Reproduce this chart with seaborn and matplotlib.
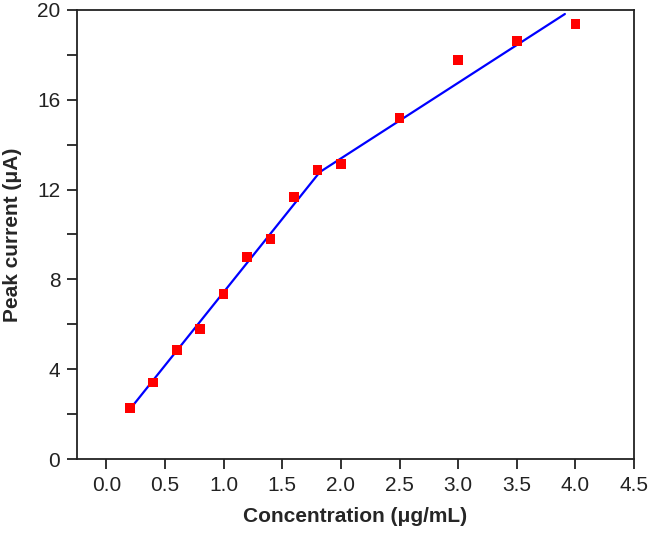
import matplotlib
matplotlib.use("Agg")
import matplotlib.pyplot as plt
import seaborn as sns
import pandas as pd
from matplotlib.ticker import MultipleLocator

# Data
concentration = [0.2, 0.4, 0.6, 0.8, 1.0, 1.2, 1.4, 1.6, 1.8, 2.0, 2.5, 3.0, 3.5, 4.0]
peak_current = [2.26, 3.40, 4.86, 5.80, 7.35, 9.01, 9.79, 11.68, 12.87, 13.13, 15.19, 17.77, 18.63, 19.38]

# Linear-fit segments (endpoints)
fit1_x = [0.2, 1.82]
fit1_y = [2.21, 12.78]
fit2_x = [1.82, 3.91]
fit2_y = [12.78, 19.82]

x_ticks = [0.0, 0.5, 1.0, 1.5, 2.0, 2.5, 3.0, 3.5, 4.0, 4.5]
y_ticks = [0, 4, 8, 12, 16, 20]

sns.set_theme(style="ticks")
plt.rcParams['font.family'] = ['Liberation Sans', 'DejaVu Sans']

fig = plt.figure(figsize=(6.5, 5.33), dpi=100)
ax = fig.add_axes([0.1185, 0.1388, 0.857, 0.8425])

df = pd.DataFrame({"x": concentration, "y": peak_current})
f1 = pd.DataFrame({"x": fit1_x, "y": fit1_y})
f2 = pd.DataFrame({"x": fit2_x, "y": fit2_y})

sns.lineplot(data=f1, x="x", y="y", ax=ax, color="#0000ff", linewidth=1.6, zorder=2)
sns.lineplot(data=f2, x="x", y="y", ax=ax, color="#0000ff", linewidth=1.6, zorder=2)
sns.scatterplot(data=df, x="x", y="y", ax=ax, marker="s", s=48, color="#ff0000",
                edgecolor="none", linewidth=0, zorder=3)

ax.set_xlim(-0.25, 4.5)
ax.set_ylim(0, 20)
ax.set_xticks(x_ticks)
ax.set_xticklabels([f"{v:.1f}" for v in x_ticks])
ax.set_yticks(y_ticks)
ax.set_yticklabels([str(v) for v in y_ticks])
ax.yaxis.set_minor_locator(MultipleLocator(2))

for s in ax.spines.values():
    s.set_linewidth(1.3)
    s.set_color("#222222")
ax.tick_params(axis="both", which="major", direction="out", length=7, width=1.3, labelsize=15,
               colors="#222222", labelcolor="#222222", pad=5)
ax.tick_params(axis="y", which="minor", direction="out", length=7, width=1.3, colors="#222222")

ax.set_xlabel("Concentration (μg/mL)", fontsize=15, fontweight="bold", labelpad=9)
ax.set_ylabel("Peak current (μA)", fontsize=15, fontweight="bold", labelpad=11)

fig.savefig("out.png", dpi=100)
